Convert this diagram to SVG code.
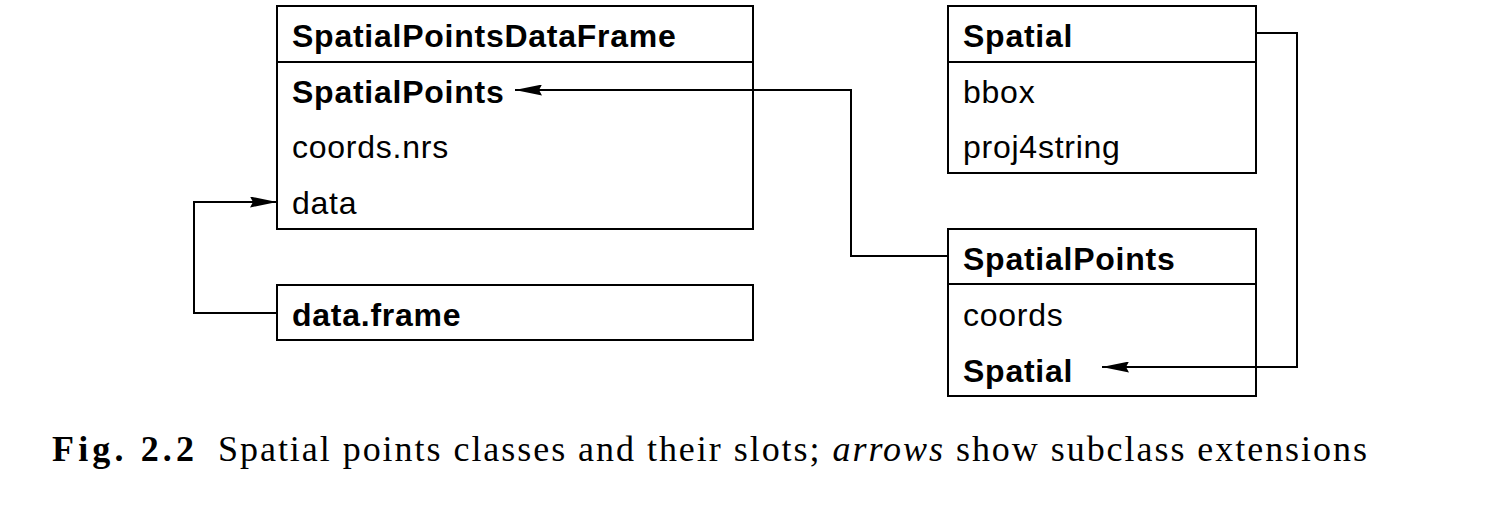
<svg xmlns="http://www.w3.org/2000/svg" width="1491" height="525" viewBox="0 0 1491 525">
<style>
.box{fill:#fff;stroke:#000;stroke-width:2}
.sep{stroke:#000;stroke-width:2}
.t{font-family:"Liberation Sans",Arial,sans-serif;font-size:32px;fill:#000;letter-spacing:0.75px}
.b{font-weight:bold}
.con{fill:none;stroke:#000;stroke-width:2}
.cap{font-family:"Liberation Serif","Times New Roman",serif;font-size:36px;fill:#000}
</style>
<defs>
<marker id="ah" viewBox="0 0 27 11" refX="27" refY="5.5" markerWidth="27" markerHeight="11" markerUnits="userSpaceOnUse" orient="auto">
<path d="M0,0 L27,5.5 L0,11 L3,5.5 Z" fill="#000"/>
</marker>
</defs>
<rect width="1491" height="525" fill="#fff"/>
<g id="SpatialPointsDataFrame">
<rect class="box" x="277" y="6" width="476" height="223"/>
<line class="sep" x1="277" y1="62" x2="753" y2="62"/>
<text class="t b" x="292" y="47">SpatialPointsDataFrame</text>
<text class="t b" x="292" y="103">SpatialPoints</text>
<text class="t" x="292" y="158">coords.nrs</text>
<text class="t" x="292" y="214">data</text>
</g>
<g id="data.frame">
<rect class="box" x="277" y="285" width="476" height="55"/>
<text class="t b" x="292" y="326">data.frame</text>
</g>
<g id="Spatial">
<rect class="box" x="948" y="6" width="308" height="167"/>
<line class="sep" x1="948" y1="62" x2="1256" y2="62"/>
<text class="t b" x="963" y="47">Spatial</text>
<text class="t" x="963" y="103">bbox</text>
<text class="t" x="963" y="158">proj4string</text>
</g>
<g id="SpatialPoints">
<rect class="box" x="948" y="229" width="308" height="167"/>
<line class="sep" x1="948" y1="284" x2="1256" y2="284"/>
<text class="t b" x="963" y="270">SpatialPoints</text>
<text class="t" x="963" y="326">coords</text>
<text class="t b" x="963" y="382">Spatial</text>
</g>
<g id="connectors">
<path class="con" d="M948,256 H851 V90 H515" marker-end="url(#ah)"/>
<path class="con" d="M1256,33 H1297 V367 H1102" marker-end="url(#ah)"/>
<path class="con" d="M277,313 H194 V202 H277" marker-end="url(#ah)"/>
</g>
<text class="cap" x="52" y="461" font-weight="bold" textLength="142" lengthAdjust="spacing">Fig. 2.2</text>
<text class="cap" x="218" y="461" textLength="1149" lengthAdjust="spacing">Spatial points classes and their slots; <tspan font-style="italic">arrows</tspan> show subclass extensions</text>
</svg>
